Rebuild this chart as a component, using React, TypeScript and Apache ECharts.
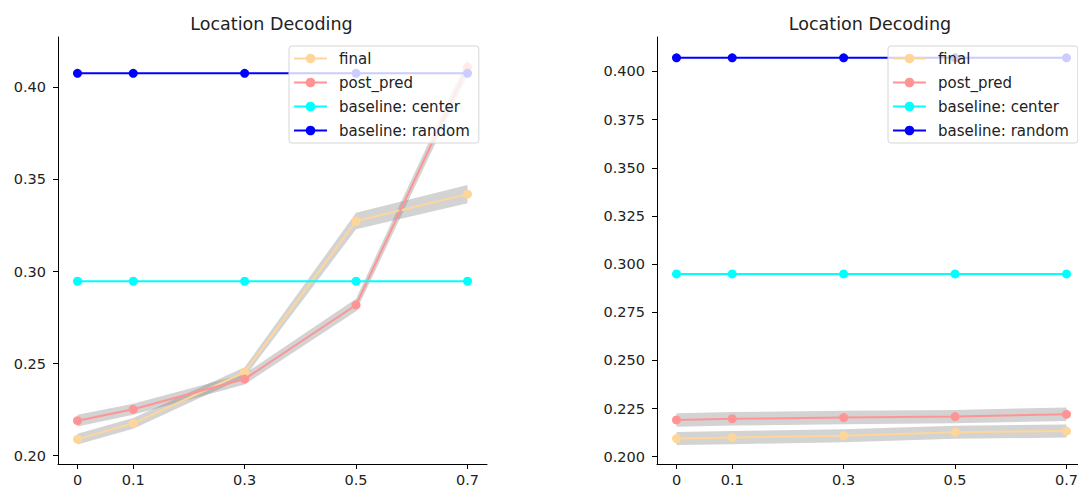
import React, { useEffect, useRef } from 'react';
import * as echarts from 'echarts';

const xValues = [0, 0.1, 0.3, 0.5, 0.7];
const xTickLabels = ['0', '0.1', '0.3', '0.5', '0.7'];
const seriesNames = ['final', 'post_pred', 'baseline: center', 'baseline: random'];
const titleText = 'Location Decoding';

// Left panel
const leftFinal = [0.209, 0.2176, 0.2453, 0.3274, 0.342];
const leftFinalErr = [0.0029, 0.0029, 0.0027, 0.0045, 0.005];
const leftPostPred = [0.219, 0.2252, 0.2416, 0.2818, 0.4109];
const leftPostPredErr = [0.0032, 0.003, 0.0029, 0.0034, 0.0045];
const leftCenter = [0.2947, 0.2947, 0.2947, 0.2947, 0.2947];
const leftRandom = [0.4076, 0.4076, 0.4076, 0.4076, 0.4076];
const leftYTicks = [0.2, 0.25, 0.3, 0.35, 0.4];

// Right panel
const rightFinal = [0.2094, 0.2099, 0.2109, 0.2127, 0.2133];
const rightFinalErr = [0.0034, 0.0034, 0.0034, 0.0034, 0.0034];
const rightPostPred = [0.2191, 0.2197, 0.2203, 0.2208, 0.222];
const rightPostPredErr = [0.0035, 0.0035, 0.0035, 0.0035, 0.0035];
const rightCenter = [0.2949, 0.2949, 0.2949, 0.2949, 0.2949];
const rightRandom = [0.4071, 0.4071, 0.4071, 0.4071, 0.4071];
const rightYTicks = [0.2, 0.225, 0.25, 0.275, 0.3, 0.325, 0.35, 0.375, 0.4];

const FONT = 'DejaVu Sans';
const colors = ['#FFD699', '#FF9494', '#00FFFF', '#0000FF'];
const bandColor = 'rgba(128,128,128,0.35)';

function band(g: number, values: number[], err: number[], name: string) {
  return {
    type: 'custom',
    name,
    xAxisIndex: g,
    yAxisIndex: g,
    z: 1,
    silent: true,
    data: values.map((v, i) => [xValues[i], v - err[i], v + err[i]]),
    encode: { x: 0, y: [1, 2] },
    renderItem: (params: any, api: any) => {
      if (params.dataIndex !== 0) return null;
      const upper = values.map((v, i) => api.coord([xValues[i], v + err[i]]));
      const lower = values.map((v, i) => api.coord([xValues[i], v - err[i]])).reverse();
      return {
        type: 'polygon',
        shape: { points: upper.concat(lower) },
        style: { fill: bandColor },
      };
    },
  };
}

function line(g: number, values: number[], idx: number) {
  return {
    type: 'line',
    name: seriesNames[idx],
    xAxisIndex: g,
    yAxisIndex: g,
    z: 2 + idx * 0.1,
    data: values.map((v, i) => [xValues[i], v]),
    symbol: 'circle',
    symbolSize: 9,
    showSymbol: true,
    lineStyle: { color: colors[idx], width: 2 },
    itemStyle: { color: colors[idx] },
    emphasis: { disabled: true },
  };
}

function xAxis(g: number) {
  return {
    type: 'value',
    gridIndex: g,
    min: -0.035,
    max: 0.735,
    splitLine: { show: false },
    axisLine: { show: true, onZero: false, lineStyle: { color: '#000', width: 1 } },
    axisTick: { show: true, length: 5, lineStyle: { color: '#000' }, customValues: xValues },
    axisLabel: {
      customValues: xValues,
      margin: 8,
      fontFamily: FONT,
      fontSize: 14.5,
      color: '#222',
      formatter: (v: number) => {
        const i = xValues.findIndex((x) => Math.abs(x - v) < 1e-9);
        return i >= 0 ? xTickLabels[i] : '';
      },
    },
  };
}

function yAxis(g: number, min: number, max: number, ticks: number[], digits: number) {
  return {
    type: 'value',
    gridIndex: g,
    min,
    max,
    splitLine: { show: false },
    axisLine: { show: true, onZero: false, lineStyle: { color: '#000', width: 1 } },
    axisTick: { show: true, length: 5, lineStyle: { color: '#000' }, customValues: ticks },
    axisLabel: {
      customValues: ticks,
      margin: 12,
      fontFamily: FONT,
      fontSize: 14.5,
      color: '#222',
      formatter: (v: number) => v.toFixed(digits),
    },
  };
}

function legend(left: number) {
  return {
    left,
    top: 46,
    orient: 'vertical',
    data: seriesNames,
    itemWidth: 33,
    itemHeight: 12,
    itemGap: 9,
    padding: [5, 9, 5, 4],
    backgroundColor: 'rgba(255,255,255,0.8)',
    borderColor: '#d6d6d6',
    borderWidth: 1,
    borderRadius: 3,
    selectedMode: false,
    z: 10,
    textStyle: { fontFamily: FONT, fontSize: 15, color: '#222', lineHeight: 12, padding: [0, 0, 0, 7] },
  };
}

export default function App() {
  const ref = useRef<HTMLDivElement>(null);
  useEffect(() => {
    if (!ref.current) return;
    const chart = echarts.init(ref.current, undefined, { renderer: 'svg' });
    chart.setOption({
      animation: false,
      backgroundColor: '#fff',
      title: [
        { text: titleText, left: 271.5, top: 14.5, textAlign: 'center', padding: 0, textStyle: { fontFamily: FONT, fontSize: 17.5, fontWeight: 'normal', color: '#222' } },
        { text: titleText, left: 870, top: 14.5, textAlign: 'center', padding: 0, textStyle: { fontFamily: FONT, fontSize: 17.5, fontWeight: 'normal', color: '#222' } },
      ],
      grid: [
        { left: 58, top: 37, right: 591, bottom: 23, containLabel: false, outerBoundsMode: 'none' },
        { left: 657, top: 37, right: -8, bottom: 23, containLabel: false, outerBoundsMode: 'none' },
      ],
      xAxis: [xAxis(0), xAxis(1)],
      yAxis: [
        yAxis(0, 0.1955, 0.4273, leftYTicks, 2),
        yAxis(1, 0.1962, 0.4179, rightYTicks, 3),
      ],
      legend: [legend(289), legend(888)],
      series: [
        band(0, leftFinal, leftFinalErr, 'final band L'),
        band(0, leftPostPred, leftPostPredErr, 'post_pred band L'),
        line(0, leftFinal, 0),
        line(0, leftPostPred, 1),
        line(0, leftCenter, 2),
        line(0, leftRandom, 3),
        band(1, rightFinal, rightFinalErr, 'final band R'),
        band(1, rightPostPred, rightPostPredErr, 'post_pred band R'),
        line(1, rightFinal, 0),
        line(1, rightPostPred, 1),
        line(1, rightCenter, 2),
        line(1, rightRandom, 3),
      ],
    });
    return () => chart.dispose();
  }, []);
  return (
    <div
      ref={ref}
      style={{ position: 'fixed', left: 0, top: 0, width: 1078, height: 487, background: '#fff' }}
    />
  );
}
